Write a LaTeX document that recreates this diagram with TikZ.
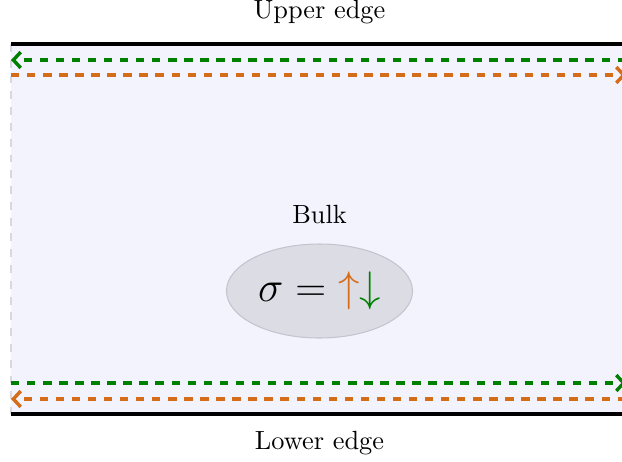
\documentclass[tikz,border=0pt]{standalone}
\usetikzlibrary{shapes.geometric,arrows.meta}
\definecolor{edgeorange}{RGB}{212,108,26}
\definecolor{edgegreen}{RGB}{0,128,0}
\definecolor{bulkfill}{RGB}{243,243,253}
\definecolor{blobfill}{RGB}{220,220,229}
\definecolor{blobdraw}{RGB}{196,196,206}
\newlength{\px}
\setlength{\px}{0.38pt}
\tikzset{
  boundary/.style={line width=1.2pt,black},
  channel/.style={dash pattern=on 3.2pt off 2.9pt,line width=1.3pt,-{Straight Barb[length=2.8pt,width=6pt]}},
  greench/.style={channel,edgegreen},
  orangech/.style={channel,edgeorange},
  blob/.style={ellipse,fill=blobfill,draw=blobdraw,line width=0.4pt,minimum width=186\px,minimum height=94\px,inner sep=0pt},
}
\begin{document}
\begin{tikzpicture}[x=0.38pt,y=-0.38pt]
\useasboundingbox (0,0) rectangle (622,461);
\clip (0,0) rectangle (622,461);
\fill[bulkfill] (11,44) rectangle (628,414);
\coordinate (tl) at (11,44);
\coordinate (tr) at (628,44);
\coordinate (bl) at (11,414);
\coordinate (br) at (628,414);
\draw[gray!30,dashed] (tl) -- (bl);
\draw[boundary] (tl) -- (tr);
\draw[boundary] (bl) -- (br);
\coordinate (g1r) at (626,60);
\coordinate (g1l) at (11,60);
\coordinate (o1l) at (11,75);
\coordinate (o1r) at (626,75);
\coordinate (g2l) at (11,383);
\coordinate (g2r) at (626,383);
\coordinate (o2r) at (626,399);
\coordinate (o2l) at (11,399);
\draw[greench] (g1r) -- (g1l);
\draw[orangech] (o1l) -- (o1r);
\draw[greench] (g2l) -- (g2r);
\draw[orangech] (o2r) -- (o2l);
\node (upper) at (319.5,12) {Upper edge};
\node (lower) at (319.5,443) {Lower edge};
\node (bulk) at (319.5,215) {Bulk};
\node[blob] (sigma) at (319.5,291) {\scalebox{0.94}{\fontsize{16}{19}\selectfont $\sigma=\textcolor{edgeorange}{\uparrow}\textcolor{edgegreen}{\downarrow}$}};
\end{tikzpicture}
\end{document}
